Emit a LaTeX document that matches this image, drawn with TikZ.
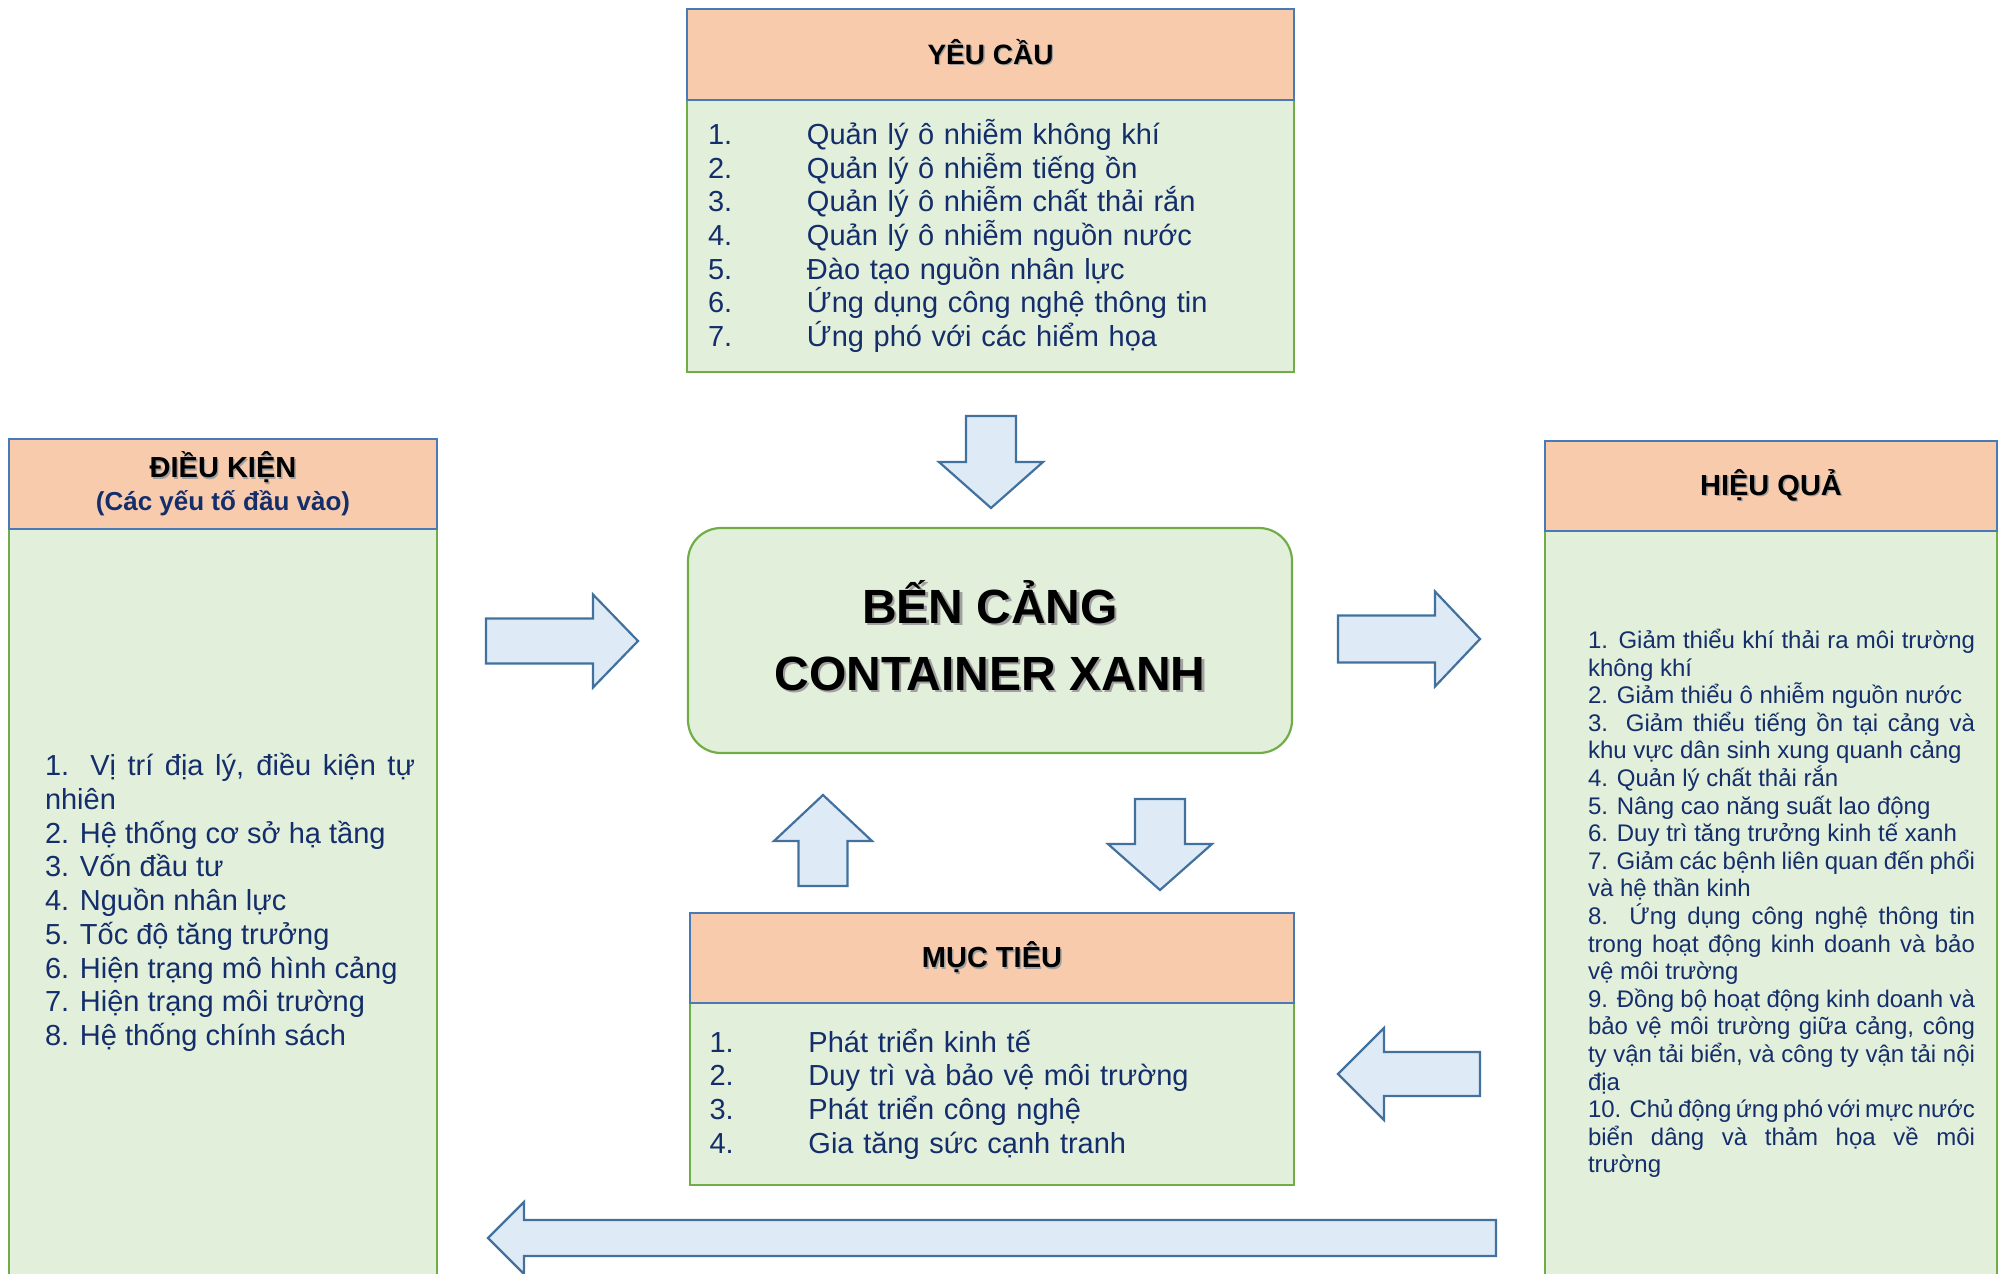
\documentclass[tikz,border=0pt]{standalone}
\usepackage{fontspec}
\setmainfont{Liberation Sans}
\usepackage{xcolor}
\usetikzlibrary{positioning}
\definecolor{hdrfill}{HTML}{F8CBAD}
\definecolor{hdrline}{HTML}{4A7AB5}
\definecolor{bodyfill}{HTML}{E2EFDA}
\definecolor{bodyline}{HTML}{70AD47}
\definecolor{arrfill}{HTML}{DEEBF7}
\definecolor{arrline}{HTML}{41719C}
\definecolor{ink}{HTML}{142E6B}
\definecolor{shade}{HTML}{A0A0A0}
\newcommand{\shad}[1]{\makebox[0pt][l]{\textcolor{shade}{\kern.05em\raisebox{-.05em}{#1}}}#1}
\newcommand{\itm}[2]{\makebox[99pt][l]{#1}#2}
\hyphenpenalty=10000
\tolerance=9999
\hbadness=10000

\begin{document}
\begin{tikzpicture}[x=1pt,y=-1pt,
  hdr/.style={draw=hdrline,fill=hdrfill,line width=2.2pt,outer sep=0pt,
              font=\fontsize{29}{35}\selectfont\bfseries,align=center},
  body/.style={draw=bodyline,fill=bodyfill,line width=2.2pt,outer sep=0pt},
  lst/.style={font=\fontsize{29}{33.7}\selectfont,text=ink,align=left},
  barr/.style={draw=arrline,fill=arrfill,line width=2.2pt},
  % block arrow pointing along +x, tip at origin: length, head width, shaft width, head length
  pics/blockarrow/.style n args={4}{code={
    \draw[barr] (0,0) -- (-#4,-#2/2) -- (-#4,-#3/2) -- (-#1,-#3/2)
      -- (-#1,#3/2) -- (-#4,#3/2) -- (-#4,#2/2) -- cycle;}}
]
\clip (0,0) rectangle (2002,1274);

% yeu cau (top)
\node[body,lst,minimum width=607pt,minimum height=272pt,text width=565pt,
      anchor=north west] (reqbody) at (687,100)
  {\itm{1.}{Quản lý ô nhiễm không khí}\\
   \itm{2.}{Quản lý ô nhiễm tiếng ồn}\\
   \itm{3.}{Quản lý ô nhiễm chất thải rắn}\\
   \itm{4.}{Quản lý ô nhiễm nguồn nước}\\
   \itm{5.}{Đào tạo nguồn nhân lực}\\
   \itm{6.}{Ứng dụng công nghệ thông tin}\\
   \itm{7.}{Ứng phó với các hiểm họa}};
\node[hdr,minimum width=607pt,minimum height=91pt,above=0pt of reqbody,text depth=5pt,
      font=\fontsize{28}{34}\selectfont\bfseries] (reqhead) {\shad{YÊU CẦU}};

% dieu kien (left)
\node[body,minimum width=428pt,minimum height=747pt,anchor=north west] (condbody) at (9,529) {};
\node[hdr,minimum width=428pt,minimum height=90pt,above=0pt of condbody] (condhead)
  {\shad{ĐIỀU KIỆN}\\[-2pt]{\fontsize{26}{30}\selectfont\color{ink}(Các yếu tố đầu vào)}};
\node[lst,text width=370pt,align=justify,inner sep=0pt] (condlist) at ([xshift=7pt]condbody.center)
  {1. Vị trí địa lý, điều kiện tự\linebreak nhiên\par
   2. Hệ thống cơ sở hạ tầng\par
   3. Vốn đầu tư\par
   4. Nguồn nhân lực\par
   5. Tốc độ tăng trưởng\par
   6. Hiện trạng mô hình cảng\par
   7. Hiện trạng môi trường\par
   8. Hệ thống chính sách};

% hieu qua (right)
\node[body,minimum width=452pt,minimum height=745pt,anchor=north west] (effbody) at (1545,531) {};
\node[hdr,minimum width=452pt,minimum height=90pt,above=0pt of effbody] (effhead) {\shad{HIỆU QUẢ}};
\node[lst,font=\fontsize{24}{27.6}\selectfont,text width=387pt,align=justify,inner sep=0pt]
  (efflist) at ([xshift=10.5pt]effbody.center)
  {1. Giảm thiểu khí thải ra môi trường\linebreak không khí\par
   2. Giảm thiểu ô nhiễm nguồn nước\par
   3. Giảm thiểu tiếng ồn tại cảng và\linebreak khu vực dân sinh xung quanh cảng\par
   4. Quản lý chất thải rắn\par
   5. Nâng cao năng suất lao động\par
   6. Duy trì tăng trưởng kinh tế xanh\par
   7. Giảm các bệnh liên quan đến phổi\linebreak và hệ thần kinh\par
   8. Ứng dụng công nghệ thông tin\linebreak trong hoạt động kinh doanh và bảo\linebreak vệ môi trường\par
   9. Đồng bộ hoạt động kinh doanh và\linebreak bảo vệ môi trường giữa cảng, công\linebreak ty vận tải biển, và công ty vận tải nội\linebreak địa\par
   10. Chủ động ứng phó với mực nước\linebreak biển dâng và thảm họa về môi\linebreak trường};

% muc tieu (bottom)
\node[body,lst,minimum width=604pt,minimum height=182pt,text width=565pt,
      anchor=north west] (goalbody) at (690,1003)
  {\itm{1.}{Phát triển kinh tế}\\
   \itm{2.}{Duy trì và bảo vệ môi trường}\\
   \itm{3.}{Phát triển công nghệ}\\
   \itm{4.}{Gia tăng sức cạnh tranh}};
\node[hdr,minimum width=604pt,minimum height=90pt,above=0pt of goalbody] (goalhead) {\shad{MỤC TIÊU}};

% ben cang (centre)
\node[body,rounded corners=33pt,minimum width=604pt,minimum height=225pt,anchor=north west,
      font=\fontsize{48}{67}\selectfont\bfseries,align=center,text depth=10pt] (port) at (688,528)
  {\shad{BẾN CẢNG}\\\shad{CONTAINER XANH}};

% block arrows
\pic[rotate=-90] (a1) at (991,508) {blockarrow={92}{104}{50}{46}};
\pic (a2) at (638,641) {blockarrow={152}{93}{45}{45}};
\pic (a3) at (1480,639) {blockarrow={142}{95}{47}{45}};
\pic[rotate=90] (a4) at (823,795) {blockarrow={91}{98}{49}{46}};
\pic[rotate=-90] (a5) at (1160,890) {blockarrow={91}{104}{50}{46}};
\pic[rotate=180] (a6) at (1338,1074) {blockarrow={142}{92}{44}{46}};
\pic[rotate=180] (a7) at (488,1238) {blockarrow={1008}{72}{36}{36}};
\end{tikzpicture}
\end{document}
